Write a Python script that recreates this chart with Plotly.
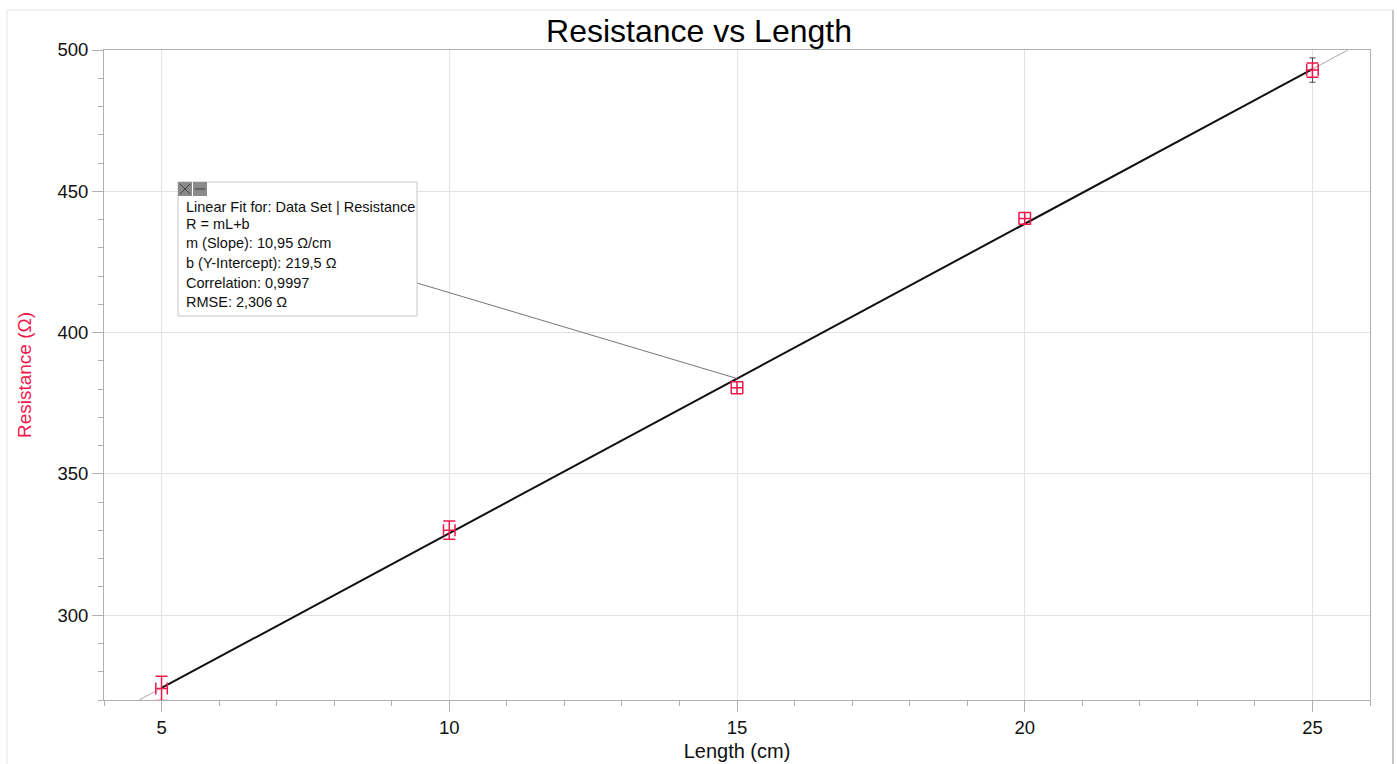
import plotly.graph_objects as go

# ---- data ----
length_cm = [5, 10, 15, 20, 25]
resistance = [274.1, 330.1, 380.5, 440.4, 492.9]
res_err = [4.3, 3.2, 2.1, 2.1, 2.5]
len_err = [0.1, 0.1, 0.1, 0.1, 0.1]

slope = 10.95
intercept = 219.5
x_range = [4, 26]
y_range = [270, 500]

fit_lines = [
    "Linear Fit for: Data Set | Resistance",
    "R = mL+b",
    "m (Slope): 10,95 \u03a9/cm",
    "b (Y-Intercept): 219,5 \u03a9",
    "Correlation: 0,9997",
    "RMSE: 2,306 \u03a9",
]

RED = "#f2164b"
FONT = "Arial, Liberation Sans, sans-serif"

W, H = 1398, 764
L, R, T, B = 104, 28, 50, 64
PW, PH = W - L - R, H - T - B


def px(xp):
    return (xp - L) / PW


def py(yp):
    return (H - B - yp) / PH


fig = go.Figure()

# extended thin fit line
x_lo = (y_range[0] - intercept) / slope
x_hi = (y_range[1] - intercept) / slope
fig.add_trace(go.Scatter(
    x=[x_lo, x_hi], y=[slope * x_lo + intercept, slope * x_hi + intercept],
    mode="lines", line=dict(color="#a8a8a8", width=1), hoverinfo="skip"))

# fit over the data range
fig.add_trace(go.Scatter(
    x=[length_cm[0], length_cm[-1]],
    y=[slope * length_cm[0] + intercept, slope * length_cm[-1] + intercept],
    mode="lines", line=dict(color="#111111", width=2), hoverinfo="skip"))

# dark bracket at last point
fig.add_trace(go.Scatter(
    x=[length_cm[-1]], y=[resistance[-1]], mode="markers",
    marker=dict(size=1, color="rgba(0,0,0,0)"),
    error_y=dict(type="data", array=[4.3], color="#444444", thickness=1, width=3),
    hoverinfo="skip"))

# data with error bars
fig.add_trace(go.Scatter(
    x=length_cm, y=resistance, mode="markers",
    marker=dict(size=1, color=RED),
    error_y=dict(type="data", array=res_err, color=RED, thickness=1.5, width=6),
    error_x=dict(type="data", array=len_err, color=RED, thickness=1.5, width=6),
))

shapes = []
# outer frame
shapes.append(dict(type="rect", xref="paper", yref="paper",
                   x0=px(7), x1=px(1393), y0=py(790), y1=py(10),
                   line=dict(color="#e4e4e4", width=1), layer="below"))
shapes.append(dict(type="line", xref="paper", yref="paper",
                   x0=px(1393), x1=px(1393), y0=py(790), y1=py(10),
                   line=dict(color="#9a9a9a", width=1)))
# leader line from box to fit line at x=15
leader_x0 = x_range[0] + (417 - L) / PW * (x_range[1] - x_range[0])
leader_y0 = y_range[0] + (H - B - 283) / PH * (y_range[1] - y_range[0])
shapes.append(dict(type="line", xref="x", yref="y",
                   x0=leader_x0, y0=leader_y0,
                   x1=15, y1=slope * 15 + intercept,
                   line=dict(color="#777777", width=1)))
# annotation box
shapes.append(dict(type="rect", xref="paper", yref="paper",
                   x0=px(178), x1=px(417), y0=py(316), y1=py(182),
                   fillcolor="white", line=dict(color="#c6c6c6", width=1),
                   layer="above"))
# icons
for x0 in (178, 193):
    shapes.append(dict(type="rect", xref="paper", yref="paper",
                       x0=px(x0), x1=px(x0 + 14), y0=py(196), y1=py(182),
                       fillcolor="#8a8a8a", line=dict(color="#8a8a8a", width=0),
                       layer="above"))
shapes.append(dict(type="line", xref="paper", yref="paper",
                   x0=px(180), x1=px(190), y0=py(194), y1=py(184),
                   line=dict(color="#444444", width=1), layer="above"))
shapes.append(dict(type="line", xref="paper", yref="paper",
                   x0=px(180), x1=px(190), y0=py(184), y1=py(194),
                   line=dict(color="#444444", width=1), layer="above"))
shapes.append(dict(type="line", xref="paper", yref="paper",
                   x0=px(195), x1=px(205), y0=py(189), y1=py(189),
                   line=dict(color="#444444", width=1), layer="above"))

annotations = []
line_y = [207, 224, 243, 263, 283, 302]
for txt, yy in zip(fit_lines, line_y):
    annotations.append(dict(text=txt, xref="paper", yref="paper",
                            x=px(184), y=py(yy), xanchor="left", yanchor="middle",
                            showarrow=False, font=dict(family=FONT, size=14.5, color="#111111")))

fig.update_layout(
    width=W, height=H,
    margin=dict(l=L, r=R, t=T, b=B, pad=0),
    paper_bgcolor="white", plot_bgcolor="white",
    showlegend=False,
    title=dict(text="Resistance vs Length", x=0.5, xref="container", xanchor="center",
               y=1 - 31 / H, yref="container", yanchor="middle",
               font=dict(family=FONT, size=32, color="#000000")),
    shapes=shapes, annotations=annotations,
    font=dict(family=FONT),
)

fig.update_xaxes(
    range=x_range, tick0=0, dtick=5, automargin=False,
    showgrid=True, gridcolor="#e2e2e2", gridwidth=1,
    showline=True, linecolor="#b0b0b0", linewidth=1, mirror=True,
    ticks="outside", ticklen=11, tickcolor="#b0b0b0",
    tickfont=dict(family=FONT, size=18.5, color="#111111"),
    minor=dict(dtick=1, tick0=0, ticks="outside", ticklen=5, tickcolor="#b0b0b0", showgrid=False),
    zeroline=False,
    title=dict(text="Length (cm)", font=dict(family=FONT, size=20, color="#111111"), standoff=6),
)
fig.update_yaxes(
    range=y_range, tick0=0, dtick=50, automargin=False,
    showgrid=True, gridcolor="#e2e2e2", gridwidth=1,
    showline=True, linecolor="#b0b0b0", linewidth=1, mirror=True,
    ticks="outside", ticklen=11, tickcolor="#b0b0b0",
    tickfont=dict(family=FONT, size=18.5, color="#111111"),
    minor=dict(dtick=10, tick0=0, ticks="outside", ticklen=5, tickcolor="#b0b0b0", showgrid=False),
    zeroline=False,
    title=dict(text="Resistance (\u03a9)", font=dict(family=FONT, size=19, color=RED), standoff=20),
)

fig.write_html("out.html")
